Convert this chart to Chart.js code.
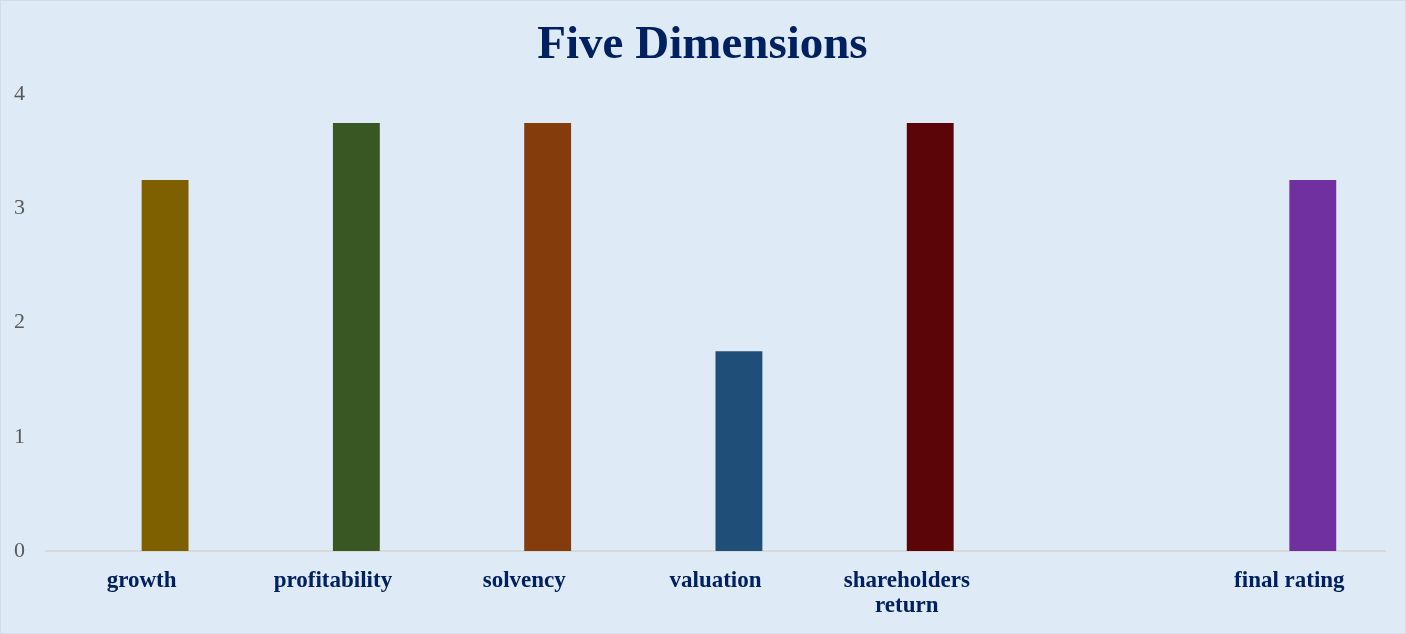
<!DOCTYPE html>
<html>
<head>
<meta charset="utf-8">
<script src="https://cdn.jsdelivr.net/npm/chart.js@4"></script>
<style>
  html, body { margin: 0; padding: 0; background: #DEEAF6; }
  #wrap { width: 1406px; height: 634px; }
</style>
</head>
<body>
<div id="wrap"><canvas id="chart"></canvas></div>
<script>
// chart data
const categories = ['growth', 'profitability', 'solvency', 'valuation', ['shareholders', 'return'], '', 'final rating'];
const blankSeries = [null, null, null, null, null, null, null];
const scoreValues = [3.25, 3.75, 3.75, 1.75, 3.75, null, 3.25];
const barColors = ['#7F6000', '#385723', '#843C0C', '#1F4E79', '#5B0508', '#7030A0', '#7030A0'];
const yTicks = [0, 1, 2, 3, 4];

const serif = '"Liberation Serif", "Times New Roman", serif';

// paint the page background and thin frame on the canvas
const backdrop = {
    id: 'backdrop',
    beforeDraw(chart) {
        const ctx = chart.ctx;
        ctx.save();
        ctx.fillStyle = '#DEEAF6';
        ctx.fillRect(0, 0, chart.width, chart.height);
        ctx.strokeStyle = '#D3DDE8';
        ctx.lineWidth = 1;
        ctx.strokeRect(0.5, 0.5, chart.width - 1, chart.height - 1);
        ctx.restore();
    }
};

const ctx = document.getElementById('chart').getContext('2d');
new Chart(ctx, {
    type: 'bar',
    data: {
        labels: categories,
        datasets: [{
            label: 'blank',
            data: blankSeries,
            backgroundColor: 'rgba(0,0,0,0)'
        }, {
            label: 'score',
            data: scoreValues,
            backgroundColor: barColors
        }]
    },
    options: {
        responsive: true,
        maintainAspectRatio: false,
        animation: false,
        categoryPercentage: 0.49,
        barPercentage: 1.0,
        layout: { padding: { left: 10, right: 11, top: 0, bottom: 0 } },
        plugins: {
            legend: { display: false },
            tooltip: { enabled: false },
            title: {
                display: true,
                text: 'Five Dimensions',
                color: '#002060',
                font: { family: serif, size: 47, weight: 'bold', lineHeight: 1.2 },
                padding: { top: 18, bottom: 20 }
            }
        },
        scales: {
            x: {
                grid: { display: false, drawTicks: false },
                border: { display: true, color: '#D9D9D9', width: 2 },
                ticks: {
                    color: '#002060',
                    padding: 17,
                    maxRotation: 0,
                    autoSkip: false,
                    font: { family: serif, size: 23, weight: 'bold', lineHeight: 1.1 }
                },
                afterFit(scale) { scale.height = 83; }
            },
            y: {
                min: 0,
                max: 4,
                grid: { display: false, drawTicks: false },
                border: { display: false },
                afterBuildTicks(scale) { scale.ticks = yTicks.map(v => ({ value: v })); },
                ticks: {
                    color: '#595959',
                    padding: 21,
                    font: { family: serif, size: 22 }
                },
                afterFit(scale) { scale.width = 36; }
            },
            // empty spacer on the right so the plot ends where the reference does
            spacer: {
                type: 'linear',
                position: 'right',
                grid: { display: false, drawTicks: false },
                border: { display: false },
                ticks: { display: false },
                afterFit(scale) { scale.width = 10; }
            }
        }
    },
    plugins: [backdrop]
});
</script>
</body>
</html>
